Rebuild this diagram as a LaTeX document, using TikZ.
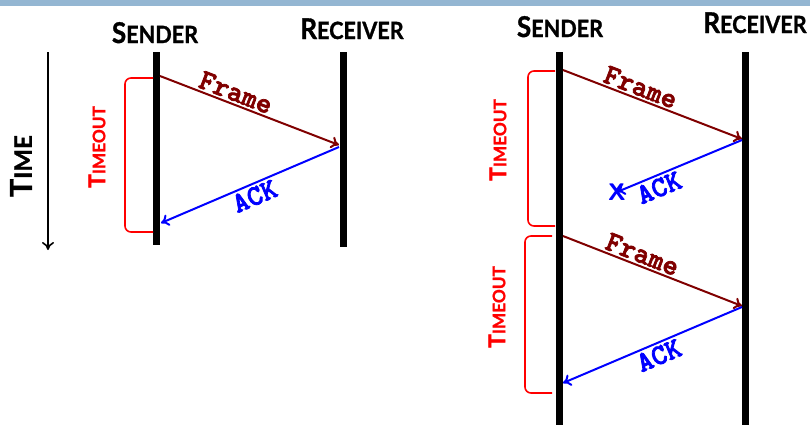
\documentclass[tikz,border=0pt]{standalone}
\usepackage{fontspec}
\setmainfont{Lato}[BoldFeatures={FakeBold=1.2}]
\setmonofont{lmmonolt10}[Extension=.otf,UprightFont=*-regular,BoldFont=*-bold,BoldFeatures={FakeBold=2.5}]
\usetikzlibrary{arrows.meta}
\definecolor{framered}{RGB}{128,0,0}
\definecolor{barblue}{RGB}{148,182,210}
\newcommand{\smcap}[4]{\bfseries{\fontsize{#1}{#1}\selectfont #3}{\fontsize{#2}{#2}\selectfont #4}}

\begin{document}
\begin{tikzpicture}[x=0.5pt,y=-0.5pt,
  lifeline/.style={line width=3.5pt},
  msg/.style={line width=1pt,-{To[length=4pt,width=6pt]}},
  frame/.style={msg,draw=framered},
  ack/.style={msg,draw=blue},
  msglabel/.style={font=\ttfamily\bfseries\fontsize{14.5}{14.5}\selectfont,sloped,inner sep=1pt},
  timeout/.style={draw=red,line width=0.8pt,rounded corners=3pt},
  party/.style={anchor=base,yscale=1.1}]
\useasboundingbox (0,0) rectangle (810,425);
\fill[barblue] (0,0) rectangle (810,6);
\foreach \Name/\X/\Bottom in {ls/156/245, lr/343/247, rs/559/425, rr/745/425}
  \draw[lifeline] (\X,52) coordinate (\Name top) -- (\X,\Bottom) coordinate (\Name bottom);
\node[party] (lsender) at (155,43) {\smcap{13}{10.8}{S}{ENDER}};
\node[party] (lreceiver) at (352,39) {\smcap{13}{10.8}{R}{ECEIVER}};
\node[party] (rsender) at (560,37) {\smcap{13}{10.8}{S}{ENDER}};
\node[party] (rreceiver) at (755,33) {\smcap{13}{10.8}{R}{ECEIVER}};
\coordinate (timetop) at (48,52);
\coordinate (timebottom) at (48,250);
\draw[line width=0.8pt,-{To[length=4pt,width=6pt]}] (timetop) -- (timebottom);
\node[rotate=90] (time) at (21,166) {\smcap{15}{12}{T}{IME}};
\coordinate (f1s) at (160,76);
\coordinate (f1r) at (339,145);
\coordinate (a1r) at (339,147);
\coordinate (a1s) at (161,223);
\draw[frame] (f1s) -- node[msglabel,above,pos=0.4,text=framered] {Frame} (f1r);
\draw[ack] (a1r) -- node[msglabel,below,pos=0.5,text=blue] {ACK} (a1s);
\draw[timeout] (153,78) -- (125,78) -- (125,232) -- (153,232);
\node[rotate=90,text=red] (tout1) at (97,147) {\smcap{11.5}{8.6}{T}{IMEOUT}};
\coordinate (f2s) at (563,70);
\coordinate (f2r) at (742,139);
\coordinate (a2r) at (742,140);
\node[text=blue,font=\sffamily\bfseries\fontsize{12}{12}\selectfont,inner sep=0pt] (lost) at (617,192) {X};
\draw[frame] (f2s) -- node[msglabel,above,pos=0.41,text=framered] {Frame} (f2r);
\draw[ack] (a2r) -- node[msglabel,below,pos=0.7,text=blue] {ACK} (lost.center);
\draw[timeout] (555,71) -- (528,71) -- (528,226) -- (555,226);
\node[rotate=90,text=red] (tout2) at (498,140) {\smcap{11.5}{8.6}{T}{IMEOUT}};
\coordinate (f3s) at (563,236);
\coordinate (f3r) at (742,306);
\coordinate (a3r) at (742,307);
\coordinate (a3s) at (563,383);
\draw[frame] (f3s) -- node[msglabel,above,pos=0.42,text=framered] {Frame} (f3r);
\draw[ack] (a3r) -- node[msglabel,below,pos=0.49,text=blue] {ACK} (a3s);
\draw[timeout] (552,236) -- (525,236) -- (525,393) -- (552,393);
\node[rotate=90,text=red] (tout3) at (497,307) {\smcap{11.5}{8.6}{T}{IMEOUT}};
\end{tikzpicture}
\end{document}
